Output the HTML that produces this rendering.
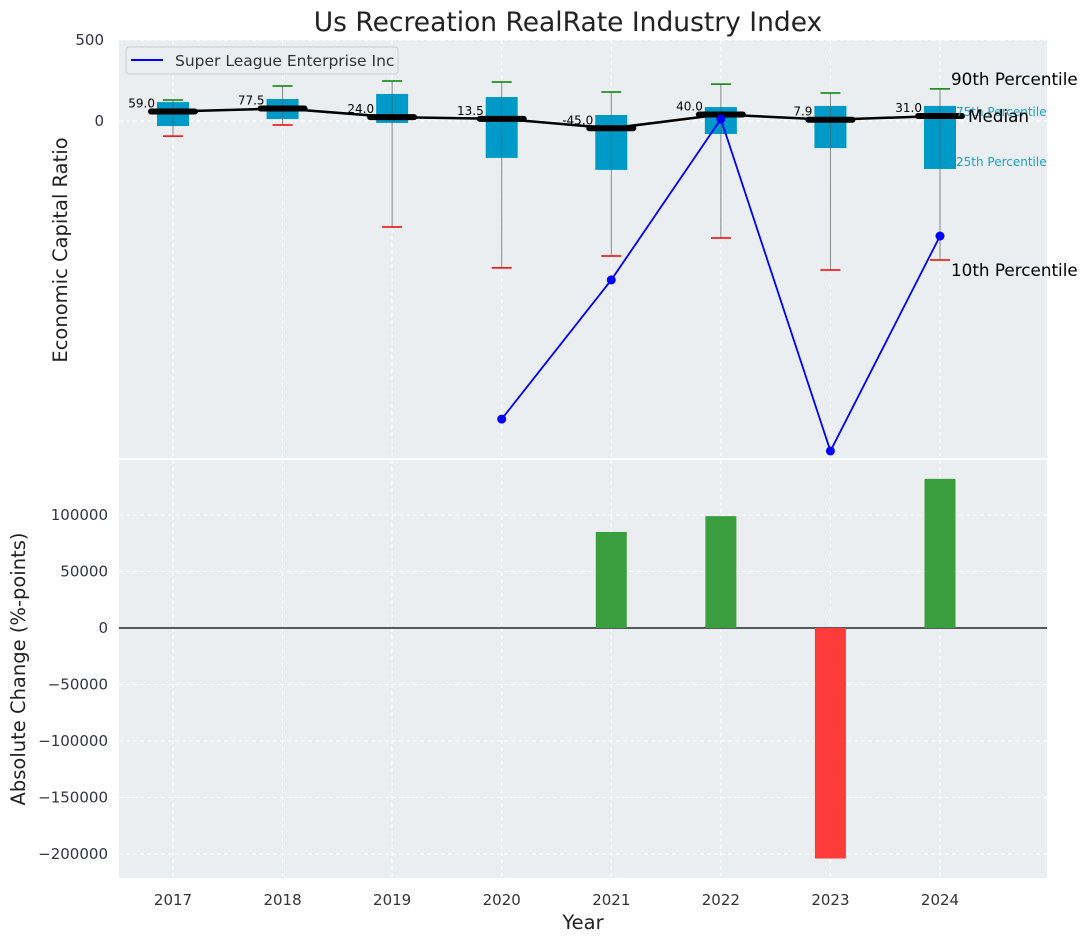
<!DOCTYPE html>
<html><head><meta charset="utf-8"><style>
body{margin:0;background:#fff;font-family:"Liberation Sans","DejaVu Sans",sans-serif}
</style></head><body>
<svg id="c" width="1086" height="942" xmlns="http://www.w3.org/2000/svg" font-family="DejaVu Sans, Liberation Sans, sans-serif"></svg>
<script>
const years=[2017,2018,2019,2020,2021,2022,2023,2024];
const p10=[-93,-25,-654,-907,-833,-722,-920,-858];
const p25=[-31,12,-12,-228,-302,-80,-167,-296];
const med=[59,77.5,24,13.5,-45,40,7.9,31];
const p75=[117,136,167,148,37,86,93,93];
const p90=[130,216,247,241,179,228,173,198];
const slYears=[2020,2021,2022,2023,2024];
const slVals=[-1840,-981,12,-2037,-710];
const chgYears=[2021,2022,2023,2024];
const chgVals=[85000,99000,-204000,132000];
const topTicks=[0,500];
const botTicks=[-200000,-150000,-100000,-50000,0,50000,100000];

const svg=document.getElementById('c');const NS='http://www.w3.org/2000/svg';
function el(t,a,txt){const e=document.createElementNS(NS,t);for(const k in a)e.setAttribute(k,a[k]);if(txt!==undefined)e.textContent=txt;svg.appendChild(e);return e;}
const L=119,R=1047;
const x=y=>173+(y-2017)*(940-173)/7;
const T0=40,T1=458,yT=v=>121-v*0.162;
const B0=460,B1=878,yB=v=>628-v*0.00113;

let t=el('text',{x:568,y:31,'text-anchor':'middle','font-size':26.5,fill:'#222'},'Us Recreation RealRate Industry Index');

let p=el('rect',{x:L,y:T0,width:R-L,height:T1-T0,fill:'#eaeef0'});

p=el('rect',{x:L,y:B0,width:R-L,height:B1-B0,fill:'#eaeef0'});

years.forEach(yr=>{
 el('line',{x1:x(yr),x2:x(yr),y1:T0,y2:T1,stroke:'#fff','stroke-dasharray':'4,3','stroke-width':1});
 el('line',{x1:x(yr),x2:x(yr),y1:B0,y2:B1,stroke:'#fff','stroke-dasharray':'4,3','stroke-width':1});
 let tl=el('text',{x:x(yr),y:905,'text-anchor':'middle','font-size':15,fill:'#333'},yr);
 
});
topTicks.forEach(v=>{
 el('line',{x1:L,x2:R,y1:yT(v),y2:yT(v),stroke:'#fff','stroke-dasharray':'4,3'});
 let tl=el('text',{x:104,y:yT(v)+5,'text-anchor':'end','font-size':15,fill:'#334'},v);
 
});
botTicks.forEach(v=>{
 el('line',{x1:L,x2:R,y1:yB(v),y2:yB(v),stroke:'#fff','stroke-dasharray':'4,3'});
 let tl=el('text',{x:108,y:yB(v)+5,'text-anchor':'end','font-size':15,fill:'#334'},(v<0?'\u2212'+(-v):v));
 
});
years.forEach((yr,i)=>{
 const cx=x(yr);
 let w=el('line',{x1:cx,x2:cx,y1:yT(p90[i]),y2:yT(p10[i]),stroke:'#888','stroke-width':1});
 
 let b=el('rect',{x:cx-16,y:yT(p75[i]),width:32,height:yT(p25[i])-yT(p75[i]),fill:'#009ac9'});
 
 el('line',{x1:cx,x2:cx,y1:yT(p75[i]),y2:yT(p25[i]),stroke:'#555','stroke-width':1,opacity:0.5});
 let g=el('line',{x1:cx-10,x2:cx+10,y1:yT(p90[i]),y2:yT(p90[i]),stroke:'#008000','stroke-width':1.5});
 
 let r=el('line',{x1:cx-10,x2:cx+10,y1:yT(p10[i]),y2:yT(p10[i]),stroke:'#e00','stroke-width':1.5});
 
});
let pts=years.map((yr,i)=>x(yr)+','+yT(med[i])).join(' ');
let ml=el('polyline',{points:pts,fill:'none',stroke:'#000','stroke-width':2.5});

years.forEach((yr,i)=>{
 let m=el('line',{x1:x(yr)-22,x2:x(yr)+22,y1:yT(med[i]),y2:yT(med[i]),stroke:'#000','stroke-width':6,'stroke-linecap':'round'});
 
 let lb=el('text',{x:x(yr)-18,y:yT(med[i])-4,'text-anchor':'end','font-size':12,fill:'#000'},med[i].toFixed(1));
 
});
let sl=el('polyline',{points:slYears.map((yr,i)=>x(yr)+','+yT(slVals[i])).join(' '),fill:'none',stroke:'#0000ff','stroke-width':1.8});

slYears.forEach((yr,i)=>{
 let d=el('circle',{cx:x(yr),cy:yT(slVals[i]),r:4.5,fill:'#0000ff'});
 
});
[['90th Percentile',951,85,16.8,'#000'],['75th Percentile',956,116,12,'#1aa3cc'],['Median',968,122,16.8,'#000'],['25th Percentile',956,166,12,'#1aa3cc'],['10th Percentile',951,276,16.8,'#000']].forEach(a=>{
 let e=el('text',{x:a[1],y:a[2],'font-size':a[3],fill:a[4]},a[0]);
 
});
let lg=el('rect',{x:126,y:47,width:272,height:27,rx:3,fill:'#eaeef0',stroke:'#ccc'});

el('line',{x1:131,x2:163,y1:60,y2:60,stroke:'#0000ff','stroke-width':2});
let lt=el('text',{x:175,y:66,'font-size':15.5,fill:'#333'},'Super League Enterprise Inc');

el('line',{x1:L,x2:R,y1:yB(0),y2:yB(0),stroke:'#000','stroke-width':1.2});
chgYears.forEach((yr,i)=>{
 const v=chgVals[i];
 let b=el('rect',{x:x(yr)-15.5,y:Math.min(yB(v),yB(0)),width:31,height:Math.abs(yB(v)-yB(0)),fill:v>=0?'#3a9e3e':'#fd3b3b'});
 
});
let a=el('text',{x:0,y:0,'font-size':19.5,fill:'#222','text-anchor':'middle',transform:'translate(67,250) rotate(-90)'},'Economic Capital Ratio');

a=el('text',{x:0,y:0,'font-size':19.5,fill:'#222','text-anchor':'middle',transform:'translate(25,669) rotate(-90)'},'Absolute Change (%-points)');

a=el('text',{x:583,y:929,'font-size':19.5,fill:'#222','text-anchor':'middle'},'Year');

</script>
</body></html>
